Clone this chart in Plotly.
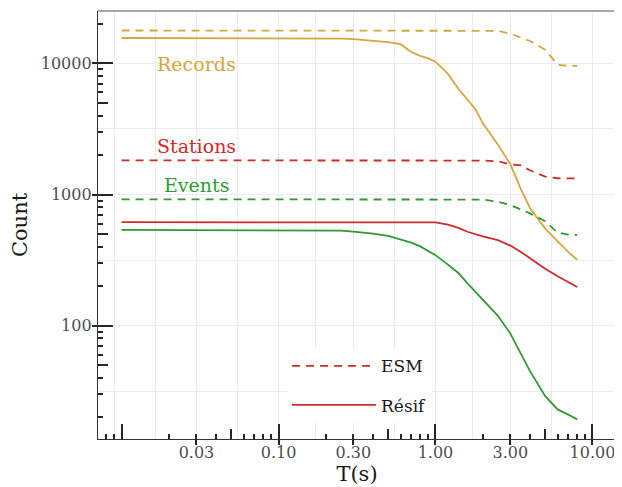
import numpy as np
import plotly.graph_objects as go

# ---------------- data ----------------
periods = [0.01, 0.02, 0.03, 0.04, 0.05, 0.07, 0.1, 0.15, 0.2, 0.25, 0.3, 0.4, 0.5,
           0.6, 0.7, 0.8, 0.9, 1.0, 1.2, 1.4, 1.6, 1.8, 2.0, 2.5, 3.0, 3.5, 4.0,
           5.0, 6.0, 7.0, 8.0]

records_esm = [17800, 17800, 17800, 17800, 17800, 17800, 17800, 17800, 17800, 17800,
               17800, 17800, 17800, 17800, 17800, 17800, 17800, 17800, 17800, 17800,
               17800, 17800, 17800, 17700, 16800, 15700, 14800, 12700, 9750, 9550, 9550]
records_resif = [15600, 15600, 15600, 15600, 15600, 15600, 15600, 15580, 15540, 15450,
                 15300, 14950, 14500, 14000, 12200, 11400, 10900, 10300, 8300, 6400,
                 5300, 4450, 3500, 2400, 1700, 1100, 790, 550, 440, 365, 318]

stations_esm = [1820, 1820, 1820, 1820, 1820, 1820, 1820, 1820, 1820, 1820,
                1820, 1820, 1820, 1820, 1820, 1820, 1820, 1820, 1820, 1820,
                1820, 1820, 1815, 1790, 1700, 1665, 1530, 1370, 1330, 1327, 1325]
stations_resif = [615, 615, 615, 615, 615, 615, 615, 615, 615, 615,
                  615, 615, 615, 615, 615, 615, 615, 612, 590, 557,
                  520, 497, 480, 449, 408, 365, 326, 272, 238, 215, 197]

events_esm = [919, 919, 919, 919, 919, 919, 919, 919, 919, 919,
              919, 919, 919, 919, 919, 919, 919, 919, 919, 919,
              919, 918, 915, 880, 830, 770, 718, 625, 512, 495, 492]
events_resif = [537, 537, 537, 537, 537, 537, 537, 537, 535, 530,
                521, 504, 484, 455, 430, 402, 372, 345, 292, 252,
                210, 180, 158, 119, 87, 61, 45, 29, 23, 21, 19.3]

series_names = ["Records", "Stations", "Events"]
legend_names = ["ESM", "Résif"]

x_tick_vals = [0.03, 0.1, 0.3, 1, 3, 10]
x_tick_text = ["0.03", "0.10", "0.30", "1.00", "3.00", "10.00"]
y_tick_vals = [100, 1000, 10000]
y_tick_text = ["100", "1000", "10000"]

# ---------------- style ----------------
FONT = "DejaVu Serif"
GOLD = "#D6A63E"
RED = "#D12A2A"
GREEN = "#2F9A31"
colors = {"Records": GOLD, "Stations": RED, "Events": GREEN}
DASH = "8px,6px"
LW = 1.8
GRID = "#EBEBEB"
TICKC = "#262626"

X_RANGE = [-2.15, 1.15]
Y_RANGE = [1.136, 4.399]

series_data = {
    "Records": (records_esm, records_resif),
    "Stations": (stations_esm, stations_resif),
    "Events": (events_esm, events_resif),
}

fig = go.Figure()
for name in series_names:
    esm, resif = series_data[name]
    fig.add_trace(go.Scatter(x=periods, y=esm, mode="lines", name=name + " ESM",
                             line=dict(color=colors[name], width=LW, dash=DASH),
                             showlegend=False))
    fig.add_trace(go.Scatter(x=periods, y=resif, mode="lines", name=name + " Résif",
                             line=dict(color=colors[name], width=LW),
                             showlegend=False))

# legend keys
fig.add_trace(go.Scatter(x=[None], y=[None], mode="lines", name=legend_names[0],
                         legendgroup="a", line=dict(color=RED, width=LW, dash=DASH)))
fig.add_trace(go.Scatter(x=[None], y=[None], mode="lines", name=legend_names[1],
                         legendgroup="b", line=dict(color=RED, width=LW)))

# gridlines in ggplot fashion: majors at labelled breaks, minors midway (log space)
def minor_grid(majors, lo, hi):
    b = np.log10(majors)
    ext = np.concatenate([[b[0] - (b[1] - b[0])], b, [b[-1] + (b[-1] - b[-2])]])
    mids = (ext[:-1] + ext[1:]) / 2
    cand = np.concatenate([ext, mids])
    cand = [c for c in cand if lo <= c <= hi and not np.any(np.isclose(c, b))]
    return sorted(10 ** np.array(cand))

x_minor = minor_grid(x_tick_vals, *X_RANGE)
y_minor = minor_grid(y_tick_vals, *Y_RANGE)

# log tick annotations (short / mid / long)
def logticks(lo, hi, mults):
    out = []
    for e in range(-4, 6):
        for m in mults:
            v = m * 10.0 ** e
            if lo <= np.log10(v) <= hi:
                out.append(v)
    return out

x_short = logticks(*X_RANGE, (2, 3, 4, 6, 7, 8, 9))
x_mid = logticks(*X_RANGE, (5,))
x_long = logticks(*X_RANGE, (1,))
y_short = logticks(*Y_RANGE, (2, 3, 4, 6, 7, 8, 9))
y_mid = logticks(*Y_RANGE, (5,))
y_long = logticks(*Y_RANGE, (1,))

tickfont = dict(family=FONT, size=16, color="#4D4D4D")

# the page body adds an 8px offset, so the figure is 8px smaller than the window
layout = dict(
    width=614, height=479,
    margin=dict(l=90, r=6, t=3, b=48, autoexpand=False),
    paper_bgcolor="white", plot_bgcolor="white",
    showlegend=True,
    legend=dict(x=0.365, y=0.212, xanchor="left", yanchor="top",
                bgcolor="white", borderwidth=0, itemwidth=84,
                traceorder="grouped", tracegroupgap=14,
                font=dict(family=FONT, size=17, color="#1A1A1A")),
    xaxis=dict(type="log", range=X_RANGE, tickmode="array", tickvals=x_tick_vals,
               ticktext=x_tick_text, ticks="outside", ticklen=5, tickwidth=1.5,
               tickcolor=TICKC, showline=True, linecolor="#333333", linewidth=1.3,
               showgrid=True, gridcolor=GRID, gridwidth=1.3, zeroline=False,
               automargin=False, ticklabelstandoff=-6,
               minor=dict(tickmode="array", tickvals=x_minor, showgrid=True,
                          gridcolor=GRID, gridwidth=1.1, ticks=""),
               tickfont=tickfont,
               title=dict(text="T(s)", standoff=0,
                          font=dict(family=FONT, size=21, color="#1A1A1A"))),
    yaxis=dict(type="log", range=Y_RANGE, tickmode="array", tickvals=y_tick_vals,
               ticktext=y_tick_text, ticks="outside", ticklen=5, tickwidth=1.5,
               tickcolor=TICKC, showline=True, linecolor="#333333", linewidth=1.3,
               showgrid=True, gridcolor=GRID, gridwidth=1.3, zeroline=False,
               automargin=False, ticklabelstandoff=-3,
               minor=dict(tickmode="array", tickvals=y_minor, showgrid=True,
                          gridcolor=GRID, gridwidth=1.1, ticks=""),
               tickfont=tickfont,
               title=dict(text="Count", standoff=9,
                          font=dict(family=FONT, size=21, color="#1A1A1A"))),
)

def overlay_x(vals, length):
    return dict(type="log", range=X_RANGE, overlaying="x", anchor="y", side="bottom",
                tickmode="array", tickvals=vals, ticks="inside", ticklen=length,
                tickwidth=1.6, tickcolor=TICKC, showticklabels=False, automargin=False,
                showgrid=False, showline=False, zeroline=False)

def overlay_y(vals, length):
    return dict(type="log", range=Y_RANGE, overlaying="y", anchor="x", side="left",
                tickmode="array", tickvals=vals, ticks="inside", ticklen=length,
                tickwidth=1.6, tickcolor=TICKC, showticklabels=False, automargin=False,
                showgrid=False, showline=False, zeroline=False)

layout["xaxis2"] = overlay_x(x_short, 5)
layout["xaxis3"] = overlay_x(x_mid, 10)
layout["xaxis4"] = overlay_x(x_long, 15)
layout["yaxis2"] = overlay_y(y_short, 5)
layout["yaxis3"] = overlay_y(y_mid, 10)
layout["yaxis4"] = overlay_y(y_long, 15)

for k in (2, 3, 4):
    fig.add_trace(go.Scatter(x=[], y=[], xaxis="x%d" % k, yaxis="y", showlegend=False,
                             hoverinfo="skip"))
    fig.add_trace(go.Scatter(x=[], y=[], xaxis="x", yaxis="y%d" % k, showlegend=False,
                             hoverinfo="skip"))

# panel border (top & right in grey)
border = dict(color="#8A8A8A", width=1.6)
layout["shapes"] = [
    dict(type="line", xref="paper", yref="paper", x0=0, x1=1, y0=1, y1=1, line=border),
    dict(type="line", xref="paper", yref="paper", x0=1, x1=1, y0=0, y1=1, line=border),
]

# series labels
label_pos = {"Records": 9800, "Stations": 2330, "Events": 1180}
layout["annotations"] = [
    dict(x=np.log10(0.03), y=np.log10(label_pos[n]), xref="x", yref="y", text=n,
         showarrow=False, font=dict(family=FONT, size=19, color=colors[n]))
    for n in series_names
]

fig.update_layout(**layout)
fig.write_html("out.html")
